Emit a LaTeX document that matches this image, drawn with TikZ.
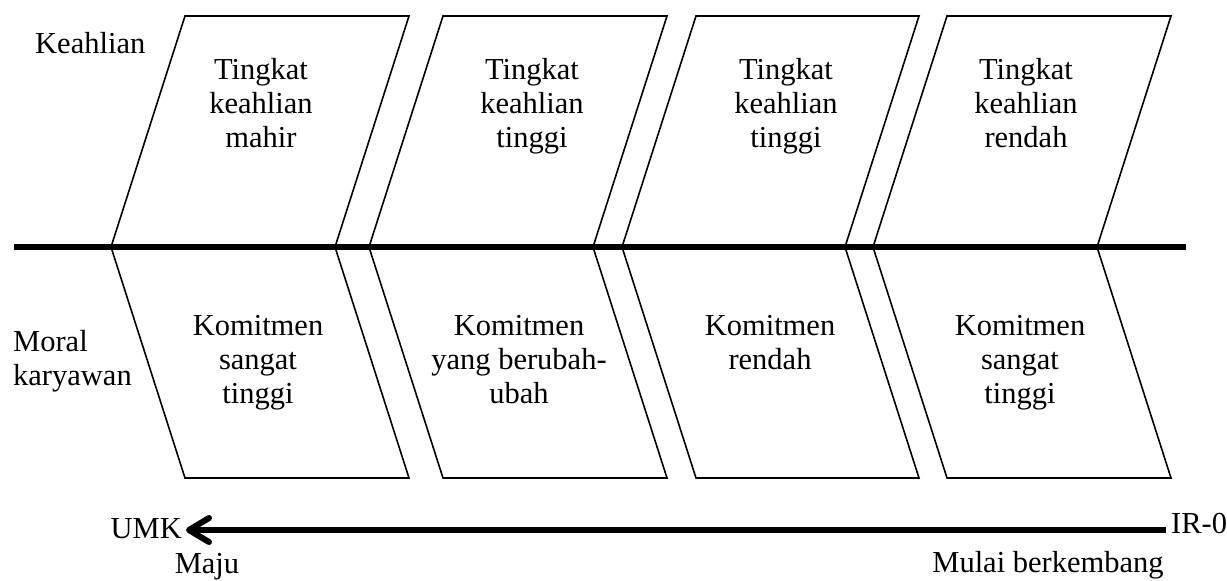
\documentclass[tikz,border=0pt]{standalone}
\usepackage{fontspec}
\setmainfont{Liberation Serif}
\usetikzlibrary{arrows.meta}

\tikzset{
  lbl/.style={inner sep=0pt, font=\fontsize{30.5}{34}\selectfont},
  boxtext/.style={lbl, align=center, anchor=base},
  panel/.style={draw=black, line width=1.6pt, line join=miter},
  axis/.style={line width=5.3pt},
  flow/.style={line width=6pt, -{Straight Barb[length=20pt,width=24pt,line cap=round,line join=round]}}
}

\begin{document}
\begin{tikzpicture}[x=1pt,y=-1pt]
\useasboundingbox (0,0) rectangle (1227,581);

% upper and lower panels, each hinged on the main axis
\foreach \l/\r in {111/335, 369/593, 622/845, 873/1097}{
  \draw[panel] (\l,247) -- (\l+74,16) -- (\r+74,16) -- (\r,247);
  \draw[panel] (\l,247) -- (\l+74,478) -- (\r+74,478) -- (\r,247);
}

% main axis
\draw[axis] (14,247) -- (1186,247);

% row labels (multi-line nodes are placed by the baseline of their last line)
\node[lbl, anchor=base west] (keahlian) at (35,53) {Keahlian};
\node[lbl, anchor=base west, align=left] (moral) at (13,385) {Moral\\karyawan};

% skill level texts
\node[boxtext] (k1) at (261,147) {Tingkat\\keahlian\\mahir};
\node[boxtext] (k2) at (532,147) {Tingkat\\keahlian\\tinggi};
\node[boxtext] (k3) at (786,147) {Tingkat\\keahlian\\tinggi};
\node[boxtext] (k4) at (1026,147) {Tingkat\\keahlian\\rendah};

% commitment texts
\node[boxtext] (m1) at (258,403) {Komitmen\\sangat\\tinggi};
\node[boxtext] (m2) at (519,403) {Komitmen\\yang berubah-\\ubah};
\node[boxtext] (m3) at (770,369) {Komitmen\\rendah};
\node[boxtext] (m4) at (1020,403) {Komitmen\\sangat\\tinggi};

% development direction
\node[lbl, anchor=base west] (ir) at (1171,533) {IR-0};
\node[lbl, anchor=base east] (umk) at (182,538) {UMK};
\coordinate (start) at (1166,530);
\coordinate (tip) at (186,530);
\draw[flow] (start) -- (tip);
\node[lbl, anchor=base] (maju) at (207,573) {Maju};
\node[lbl, anchor=base] (mulai) at (1048,572) {Mulai berkembang};

\end{tikzpicture}
\end{document}
